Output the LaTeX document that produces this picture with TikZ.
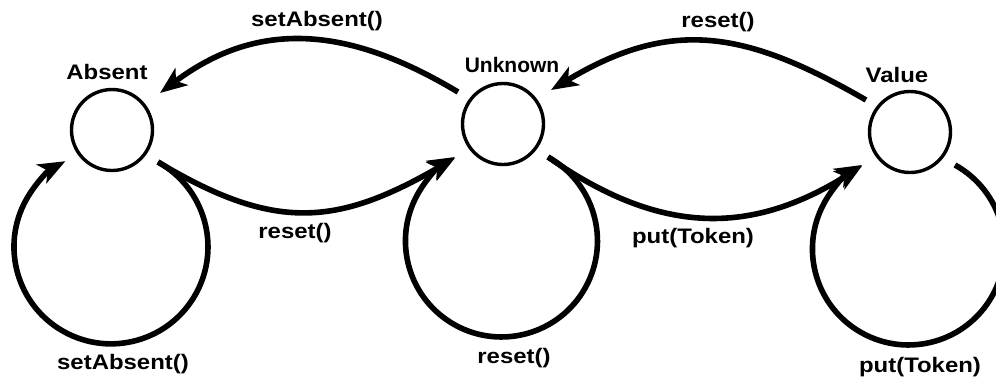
\documentclass[tikz,border=0pt]{standalone}
\usepackage{fontspec}
\setmainfont{Liberation Sans}
\newfontfamily\labfont[FakeStretch=1.14]{Liberation Sans}
\usetikzlibrary{arrows.meta,calc}
\begin{document}
\begin{tikzpicture}[x=1pt,y=1pt,
  state/.style={circle,draw,line width=3.4pt,minimum size=81pt,inner sep=0pt},
  lab/.style={font=\labfont\bfseries\fontsize{21}{25}\selectfont,inner sep=0pt},
  labn/.style={font=\bfseries\fontsize{21}{25}\selectfont,inner sep=0pt},
  edge/.style={line width=5.6pt,-{Stealth[length=27pt,width=21pt,inset=7pt]}}]
\useasboundingbox (0,0) rectangle (996,-378);
% states
\node[state] (A) at (112,-130) {};
\node[state] (U) at (503,-124) {};
\node[state] (V) at (910,-132) {};
% state names
\node[lab]  (nA) at (107,-72) {Absent};
\node[labn] (nU) at (512,-65) {Unknown};
\node[lab]  (nV) at (897,-75) {Value};
% connector end points
\coordinate (a1) at ($(A)+(48,37)$);
\coordinate (a2) at ($(A)+(46,-32)$);
\coordinate (u1) at ($(U)+(-45,32)$);
\coordinate (u2) at ($(U)+(48,34)$);
\coordinate (u3) at ($(U)+(-48,-34)$);
\coordinate (u4) at ($(U)+(45,-33)$);
\coordinate (v1) at ($(V)+(-44,32)$);
\coordinate (v2) at ($(V)+(-48,-34)$);
\coordinate (v3) at ($(V)+(45,-33)$);
% transitions
\draw[edge] (u1) .. controls +(149:125) and +(37:125) .. (a1);
\draw[edge] (v1) .. controls +(150:140) and +(31:140) .. (u2);
\draw[edge] (a2) .. controls +(-31:136) and +(210:136) .. (u3);
\draw[edge] (u4) .. controls +(-35:134) and +(212:134) .. (v2);
% self loops
\draw[edge] (a2) arc[start angle=61,end angle=-242,radius=97];
\draw[edge] (u4) arc[start angle=61,end angle=-241,radius=96];
\draw[edge] (v3) arc[start angle=61,end angle=-241,radius=96];
% transition labels
\node[lab] (t1) at (317,-21) {setAbsent()};
\node[lab] (t2) at (718,-22) {reset()};
\node[lab] (t3) at (295,-233) {reset()};
\node[lab] (t4) at (693,-238) {put(Token)};
\node[lab] (t5) at (123,-364) {setAbsent()};
\node[lab] (t6) at (514,-358) {reset()};
\node[lab] (t7) at (920,-367) {put(Token)};
\end{tikzpicture}
\end{document}
